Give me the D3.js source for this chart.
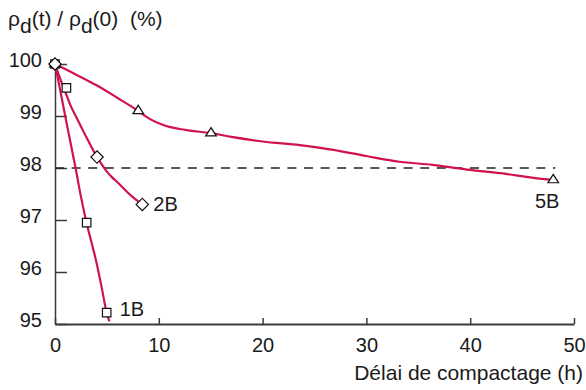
<!DOCTYPE html>
<html>
<head>
<meta charset="utf-8">
<script src="https://cdn.jsdelivr.net/npm/d3@7"></script>
<style>
  body { margin: 0; background: #fff; }
  svg { display: block; }
  text { font-family: "Liberation Sans", Arial, sans-serif; fill: #1a1a1a; }
</style>
</head>
<body>
<div id="chart"></div>
<script>
// series curves (delay h, density ratio %)
const line1B = [[0, 100], [0.5, 99.5], [1, 98.98], [1.5, 98.48], [2, 97.98], [2.5, 97.45], [3, 96.98],
  [3.5, 96.58], [4, 96.18], [4.5, 95.7], [5, 95.2], [5.25, 95.05]];
const line2B = [[0, 100], [0.5, 99.72], [1, 99.46], [1.5, 99.2], [2, 99.0], [2.5, 98.8], [3, 98.6],
  [3.5, 98.41], [4, 98.23], [4.5, 98.07], [5, 97.93], [5.5, 97.82], [6, 97.73], [6.5, 97.63],
  [7, 97.53], [7.5, 97.44], [8, 97.36], [8.4, 97.3]];
const line5B = [[0, 100], [2, 99.8], [4, 99.59], [6, 99.35], [8, 99.1], [9, 98.96], [10, 98.86],
  [11, 98.79], [12, 98.75], [13, 98.72], [15, 98.67], [17, 98.6], [20, 98.51], [23.6, 98.44],
  [26.8, 98.35], [30, 98.23], [33.2, 98.12], [36.4, 98.06], [39.7, 97.97], [42.9, 97.9],
  [46.1, 97.81], [48, 97.77]];

// measured points
const pts1B = [[0, 100], [1.1, 99.54], [3.05, 96.95], [4.98, 95.22]];
const pts2B = [[0, 100], [4.05, 98.21], [8.41, 97.3]];
const pts5B = [[0, 100], [8.02, 99.1], [15.03, 98.67], [48, 97.77]];

const seriesNames = ['1B', '2B', '5B'];
const xTicks = [0, 10, 20, 30, 40, 50];
const yTicks = [95, 96, 97, 98, 99, 100];
const refLevel = 98;

const W = 586, H = 390;
const red = '#d1124b';
const axisCol = '#3a3a3a';

const svg = d3.select('#chart').append('svg')
  .attr('width', W)
  .attr('height', H);

const x = d3.scaleLinear().domain([0, 50]).range([55, 574]);
const y = d3.scaleLinear().domain([95, 100]).range([324, 64]);

// y axis, ticks pointing inside
const yAxis = d3.axisLeft(y)
  .tickValues(yTicks)
  .tickSize(-12)
  .tickSizeOuter(0)
  .tickPadding(13)
  .tickFormat(d3.format('d'));

svg.append('g')
  .attr('transform', 'translate(' + x(0) + ',0)')
  .call(yAxis)
  .call(g => g.select('.domain').attr('stroke', axisCol).attr('stroke-width', 1.5))
  .call(g => g.selectAll('.tick line').attr('stroke', axisCol).attr('stroke-width', 1.5))
  .call(g => g.selectAll('.tick text').attr('dy', '0.1em').style('font-size', '20px').attr('fill', '#1a1a1a'));

// x axis
const xAxis = d3.axisBottom(x)
  .tickValues(xTicks)
  .tickSize(-6)
  .tickSizeOuter(0)
  .tickPadding(14)
  .tickFormat(d3.format('d'));

svg.append('g')
  .attr('transform', 'translate(0,' + y(95) + ')')
  .call(xAxis)
  .call(g => g.select('.domain').attr('stroke', axisCol).attr('stroke-width', 2))
  .call(g => g.selectAll('.tick line').attr('stroke', axisCol).attr('stroke-width', 1.5))
  .call(g => g.selectAll('.tick text').style('font-size', '20px').attr('fill', '#1a1a1a'));

svg.selectAll('.tick text').style('font-family', '"Liberation Sans", Arial, sans-serif');

// 98 % reference
svg.append('line')
  .attr('x1', x(0))
  .attr('x2', x(48.2))
  .attr('y1', y(refLevel))
  .attr('y2', y(refLevel))
  .attr('stroke', '#222')
  .attr('stroke-width', 1.3)
  .attr('stroke-dasharray', '9,7.6');

// curves
const line = d3.line()
  .x(d => x(d[0]))
  .y(d => y(d[1]))
  .curve(d3.curveMonotoneX);

[line1B, line2B, line5B].forEach(function(data) {
  svg.append('path')
    .datum(data)
    .attr('d', line)
    .attr('fill', 'none')
    .attr('stroke', red)
    .attr('stroke-width', 2.2)
    .attr('stroke-linejoin', 'round');
});

// markers
const symSquare = d3.symbol().type(d3.symbolSquare).size(72);
const symDiamond = d3.symbol().type(d3.symbolSquare).size(76); // rotated below
const symTriangle = d3.symbol().type(d3.symbolTriangle).size(40);

function drawMarkers(data, sym, extra) {
  svg.append('g')
    .selectAll('path')
    .data(data)
    .enter()
    .append('path')
      .attr('d', sym)
      .attr('transform', function(d) {
        return 'translate(' + x(d[0]) + ',' + y(d[1]) + ')' + (extra || '');
      })
      .attr('fill', '#fff')
      .attr('stroke', '#111')
      .attr('stroke-width', 1.2);
}

drawMarkers(pts1B, symSquare);
drawMarkers(pts5B, symTriangle, ' scale(1.1,1)');
drawMarkers(pts2B, symDiamond, ' rotate(45)');

// series labels
const lastPts = [pts1B[pts1B.length - 1], pts2B[pts2B.length - 1], pts5B[pts5B.length - 1]];
const labelOffsets = [[13, 3, 'start'], [11, 7, 'start'], [-6, 28, 'middle']];

svg.selectAll('.series-label')
  .data(seriesNames)
  .enter()
  .append('text')
    .attr('class', 'series-label')
    .attr('x', (d, i) => x(lastPts[i][0]) + labelOffsets[i][0])
    .attr('y', (d, i) => y(lastPts[i][1]) + labelOffsets[i][1])
    .attr('text-anchor', (d, i) => labelOffsets[i][2])
    .style('font-size', '20px')
    .text(d => d);

// axis titles
svg.append('text')
  .attr('x', 583)
  .attr('y', 380)
  .attr('text-anchor', 'end')
  .style('font-size', '21px')
  .text('Délai de compactage (h)');

const yTitle = svg.append('text')
  .attr('x', 8)
  .attr('y', 26)
  .style('font-size', '21px');
yTitle.append('tspan').text('ρ');
yTitle.append('tspan').attr('dy', 7).text('d');
yTitle.append('tspan').attr('dy', -7).text('(t) / ρ');
yTitle.append('tspan').attr('dy', 7).text('d');
yTitle.append('tspan').attr('dy', -7).attr('xml:space', 'preserve').style('white-space', 'pre').text('(0)  (%)');
</script>
</body>
</html>
